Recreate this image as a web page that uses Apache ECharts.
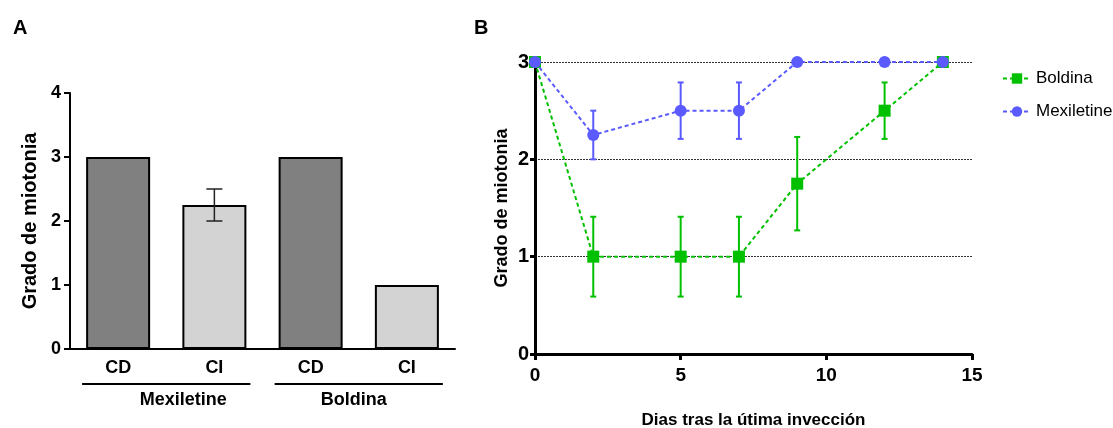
<!DOCTYPE html>
<html>
<head>
<meta charset="utf-8">
<script src="https://cdn.jsdelivr.net/npm/echarts@6/dist/echarts.min.js"></script>
<style>
  html, body { margin: 0; padding: 0; background: #fff; }
  #chart { width: 1113px; height: 428px; }
</style>
</head>
<body>
<div id="chart"></div>
<script>
// Panel A: grado de miotonia por condición
const barLabels = ['CD', 'CI', 'CD', 'CI'];
const barGroups = ['Mexiletine', 'Boldina'];
const barValues = [3, 2.25, 3, 1];
const barErrors = [0, 0.25, 0, 0];
const barColors = ['#808080', '#d3d3d3', '#808080', '#d3d3d3'];

// Panel B: días tras la última inyección
const days = [0, 2, 5, 7, 9, 12, 14];
const boldinaMean = [3, 1, 1, 1, 1.75, 2.5, 3];
const boldinaErr = [0, 0.41, 0.41, 0.41, 0.48, 0.29, 0];
const mexMean = [3, 2.25, 2.5, 2.5, 3, 3, 3];
const mexErr = [0, 0.25, 0.29, 0.29, 0, 0, 0];

const GREEN = '#00c000';
const BLUE = '#5a5aff';
const FONT = '"Liberation Sans", Arial, sans-serif';

// barra de error (media ± error) dibujada con api.coord
function errorBar(color, lineWidth, capHalf) {
  return (params, api) => {
    const x = api.value(0);
    const y = api.value(1);
    const e = api.value(2);
    if (!e) return null;
    const hi = api.coord([x, y + e]);
    const lo = api.coord([x, y - e]);
    const style = { stroke: color, lineWidth: lineWidth };
    return {
      type: 'group',
      children: [
        { type: 'line', shape: { x1: hi[0], y1: hi[1], x2: lo[0], y2: lo[1] }, style },
        { type: 'line', shape: { x1: hi[0] - capHalf, y1: hi[1], x2: hi[0] + capHalf, y2: hi[1] }, style },
        { type: 'line', shape: { x1: lo[0] - capHalf, y1: lo[1], x2: lo[0] + capHalf, y2: lo[1] }, style }
      ]
    };
  };
}

const chart = echarts.init(document.getElementById('chart'));

chart.setOption({
  animation: false,
  textStyle: { fontFamily: FONT, color: '#000' },
  title: [
    { text: 'A', left: 8, top: 13, textStyle: { fontSize: 20, fontWeight: 'bold', color: '#000', fontFamily: FONT } },
    { text: 'B', left: 469, top: 13, textStyle: { fontSize: 20, fontWeight: 'bold', color: '#000', fontFamily: FONT } }
  ],
  legend: {
    data: ['Boldina', 'Mexiletine'],
    orient: 'vertical',
    left: 997,
    top: 65,
    itemWidth: 28,
    itemHeight: 13,
    itemGap: 16,
    textStyle: { fontSize: 17, color: '#000', fontFamily: FONT }
  },
  grid: [
    { left: 70, top: 93, width: 385, height: 256, outerBoundsMode: 'none' },
    { left: 535, top: 62, width: 437, height: 292, outerBoundsMode: 'none' }
  ],
  xAxis: [
    {
      gridIndex: 0,
      type: 'category',
      data: barLabels,
      axisLine: { lineStyle: { color: '#000', width: 2 } },
      axisTick: { alignWithLabel: true, length: 6, lineStyle: { color: '#000', width: 2 } },
      axisLabel: { fontSize: 18, fontWeight: 'bold', color: '#000', margin: 10 }
    },
    {
      gridIndex: 0,
      type: 'category',
      position: 'bottom',
      offset: 42,
      data: barGroups,
      axisLine: { show: false },
      axisTick: { show: false },
      axisLabel: {
        margin: 0,
        formatter: (v, i) => i === 0 ? '{m|' + v + '}' : '{b|' + v + '}',
        rich: {
          m: { fontSize: 18, fontWeight: 'bold', color: '#000', padding: [0, 0, 0, 34] },
          b: { fontSize: 18, fontWeight: 'bold', color: '#000', padding: [0, 10, 0, 0] }
        }
      }
    },
    {
      gridIndex: 1,
      type: 'value',
      min: 0,
      max: 15,
      interval: 5,
      name: 'Dias tras la útima invección',
      nameLocation: 'middle',
      nameGap: 58,
      nameTextStyle: { fontSize: 17, fontWeight: 'bold', color: '#000' },
      axisLine: { lineStyle: { color: '#000', width: 3 } },
      axisTick: { length: 6, lineStyle: { color: '#000', width: 3 } },
      axisLabel: { fontSize: 19, fontWeight: 'bold', color: '#000', margin: 12 },
      splitLine: { show: false }
    }
  ],
  yAxis: [
    {
      gridIndex: 0,
      type: 'value',
      min: 0,
      max: 4,
      interval: 1,
      name: 'Grado de miotonia',
      nameLocation: 'middle',
      nameGap: 30,
      nameTextStyle: { fontSize: 20, fontWeight: 'bold', color: '#000' },
      axisLine: { show: true, lineStyle: { color: '#000', width: 2 } },
      axisTick: { show: true, length: 6, lineStyle: { color: '#000', width: 2 } },
      axisLabel: { fontSize: 18, fontWeight: 'bold', color: '#000', margin: 9 },
      splitLine: { show: false }
    },
    {
      gridIndex: 1,
      type: 'value',
      min: 0,
      max: 3,
      interval: 1,
      name: 'Grado de miotonia',
      nameLocation: 'middle',
      nameGap: 24,
      nameTextStyle: { fontSize: 18, fontWeight: 'bold', color: '#000' },
      axisLine: { show: true, lineStyle: { color: '#000', width: 3 } },
      axisTick: { show: true, length: 5, lineStyle: { color: '#000', width: 3 } },
      axisLabel: { fontSize: 20, fontWeight: 'bold', color: '#000', margin: 6 },
      splitLine: { show: true, lineStyle: { color: '#333', width: 1, type: [2, 1] } }
    }
  ],
  series: [
    {
      type: 'bar',
      xAxisIndex: 0,
      yAxisIndex: 0,
      barWidth: 64,
      data: barValues.map((v, i) => ({
        value: v,
        itemStyle: { color: barColors[i], borderColor: '#000', borderWidth: 2 }
      })),
      z: 2
    },
    {
      type: 'custom',
      xAxisIndex: 0,
      yAxisIndex: 0,
      renderItem: errorBar('#222', 1.5, 8),
      encode: { x: 0, y: 1 },
      data: barValues.map((v, i) => [i, v, barErrors[i]]),
      z: 3
    },
    {
      type: 'custom',
      xAxisIndex: 2,
      yAxisIndex: 1,
      renderItem: errorBar(GREEN, 2, 3),
      encode: { x: 0, y: 1 },
      data: days.map((d, i) => [d, boldinaMean[i], boldinaErr[i]]),
      clip: false,
      z: 3
    },
    {
      type: 'custom',
      xAxisIndex: 2,
      yAxisIndex: 1,
      renderItem: errorBar(BLUE, 2, 3),
      encode: { x: 0, y: 1 },
      data: days.map((d, i) => [d, mexMean[i], mexErr[i]]),
      clip: false,
      z: 3
    },
    {
      name: 'Boldina',
      type: 'line',
      xAxisIndex: 2,
      yAxisIndex: 1,
      data: days.map((d, i) => [d, boldinaMean[i]]),
      symbol: 'rect',
      symbolSize: 12,
      clip: false,
      itemStyle: { color: GREEN },
      lineStyle: { color: GREEN, width: 2, type: [4, 3] },
      z: 4
    },
    {
      name: 'Mexiletine',
      type: 'line',
      xAxisIndex: 2,
      yAxisIndex: 1,
      data: days.map((d, i) => [d, mexMean[i]]),
      symbol: 'circle',
      symbolSize: 12,
      clip: false,
      itemStyle: { color: BLUE },
      lineStyle: { color: BLUE, width: 2, type: [4, 3] },
      z: 5
    }
  ]
});

// líneas bajo cada grupo (Mexiletine / Boldina)
const groupLines = barGroups.map((g, gi) => {
  const x1 = chart.convertToPixel({ xAxisIndex: 0 }, gi * 2) - 36;
  const x2 = chart.convertToPixel({ xAxisIndex: 0 }, gi * 2 + 1) + 36;
  const y = chart.convertToPixel({ yAxisIndex: 0 }, 0) + 35;
  return {
    type: 'line',
    shape: { x1: x1, y1: y, x2: x2, y2: y },
    style: { stroke: '#000', lineWidth: 2 }
  };
});
chart.setOption({ graphic: groupLines });
</script>
</body>
</html>
